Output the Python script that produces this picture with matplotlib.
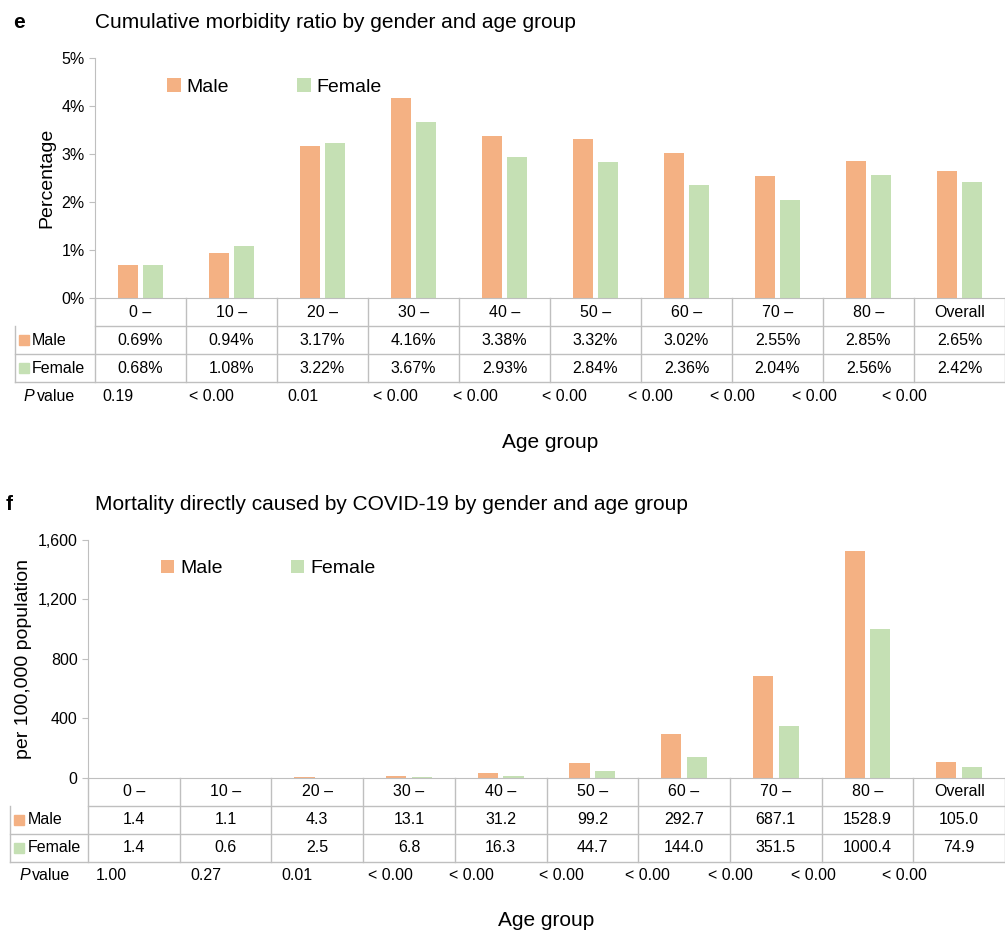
import matplotlib.pyplot as plt
import matplotlib.transforms as mtransforms
from matplotlib.ticker import FuncFormatter

plt.rcParams['font.family'] = ['Liberation Sans', 'DejaVu Sans']

groups = ["0 –", "10 –", "20 –", "30 –", "40 –", "50 –", "60 –", "70 –", "80 –", "Overall"]

morb_male = [0.69, 0.94, 3.17, 4.16, 3.38, 3.32, 3.02, 2.55, 2.85, 2.65]
morb_female = [0.68, 1.08, 3.22, 3.67, 2.93, 2.84, 2.36, 2.04, 2.56, 2.42]
morb_p = ["0.19", "< 0.00", "0.01", "< 0.00", "< 0.00", "< 0.00", "< 0.00", "< 0.00", "< 0.00", "< 0.00"]

mort_male = [1.4, 1.1, 4.3, 13.1, 31.2, 99.2, 292.7, 687.1, 1528.9, 105.0]
mort_female = [1.4, 0.6, 2.5, 6.8, 16.3, 44.7, 144.0, 351.5, 1000.4, 74.9]
mort_p = ["1.00", "0.27", "0.01", "< 0.00", "< 0.00", "< 0.00", "< 0.00", "< 0.00", "< 0.00", "< 0.00"]

MALE = "#F4B183"
FEMALE = "#C5E0B4"
LINE = "#BFBFBF"

# p value labels sit a bit off the column centres in the original
p_pos = [-0.25, 0.78, 1.78, 2.8, 3.68, 4.66, 5.6, 6.51, 7.41, 8.4]

fig = plt.figure(figsize=(10.05, 9.39), dpi=100)


def panel(rect, male, female, fmt, pvals, ylim, yticks, yfmt, ylabel, letter, title, rowh, label_left, title_dx):
    ax = fig.add_axes(rect)
    n = len(groups)
    x = list(range(n))
    w = 0.22
    ax.bar([i - 0.14 for i in x], male, w, color=MALE, label="Male")
    ax.bar([i + 0.14 for i in x], female, w, color=FEMALE, label="Female")
    ax.set_xlim(-0.5, n - 0.5)
    ax.set_ylim(*ylim)
    ax.set_yticks(yticks)
    ax.yaxis.set_major_formatter(FuncFormatter(yfmt))
    ax.set_xticks([])
    for s in ["top", "right"]:
        ax.spines[s].set_visible(False)
    ax.spines["left"].set_color(LINE)
    ax.spines["bottom"].set_color(LINE)
    ax.tick_params(axis="y", labelsize=11.5, length=4, color=LINE)
    ax.set_ylabel(ylabel, fontsize=14)
    ax.legend(loc="upper left", bbox_to_anchor=(0.06, 0.99), ncol=2, frameon=False,
              fontsize=14, handlelength=0.7, handleheight=0.7, columnspacing=3.5, handletextpad=0.3)
    ax.text(-0.09, 1.15, letter, transform=ax.transAxes, fontsize=15, fontweight="bold", va="center")
    ax.text(title_dx, 1.15, title, transform=ax.transAxes, fontsize=15, va="center")

    tr = mtransforms.blended_transform_factory(ax.transData, ax.transAxes)
    kw = dict(transform=tr, clip_on=False, color=LINE, lw=1)
    ys = [0, -rowh, -2 * rowh, -3 * rowh]
    ax.plot([-0.5, n - 0.5], [ys[1]] * 2, **kw)
    ax.plot([label_left, n - 0.5], [ys[2]] * 2, **kw)
    ax.plot([label_left, n - 0.5], [ys[3]] * 2, **kw)
    for b in range(n + 1):
        ax.plot([b - 0.5] * 2, [0, ys[3]], **kw)
    ax.plot([label_left] * 2, [ys[1], ys[3]], **kw)

    for i in x:
        ax.text(i, -0.5 * rowh, groups[i], transform=tr, ha="center", va="center", fontsize=11.5)
        ax.text(i, -1.5 * rowh, fmt(male[i]), transform=tr, ha="center", va="center", fontsize=11.5)
        ax.text(i, -2.5 * rowh, fmt(female[i]), transform=tr, ha="center", va="center", fontsize=11.5)
    for name, col, y in [("Male", MALE, -1.5 * rowh), ("Female", FEMALE, -2.5 * rowh)]:
        ax.plot([label_left + 0.1], [y], marker="s", ms=7, color=col, transform=tr, clip_on=False)
        ax.text(label_left + 0.19, y, name, transform=tr, ha="left", va="center", fontsize=11.5)
    ax.text(label_left + 0.1, -3.5 * rowh, "P", transform=tr, ha="left", va="center",
            fontsize=11.5, style="italic")
    ax.text(label_left + 0.24, -3.5 * rowh, "value", transform=tr, ha="left", va="center", fontsize=11.5)
    for p, xp in zip(pvals, p_pos):
        ax.text(xp, -3.5 * rowh, p, transform=tr, ha="center", va="center", fontsize=11.5)
    ax.text(0.5, -0.6, "Age group", transform=ax.transAxes, ha="center", va="center", fontsize=15)
    return ax


panel([0.0945, 0.6826, 0.9055, 0.2556], morb_male, morb_female, lambda v: f"{v:.2f}%", morb_p,
      (0, 5), [0, 1, 2, 3, 4, 5], lambda v, _: f"{v:.0f}%", "Percentage", "e",
      "Cumulative morbidity ratio by gender and age group", 0.1167, -1.38, 0.0)

panel([0.0876, 0.1715, 0.9124, 0.2535], mort_male, mort_female, lambda v: f"{v:.1f}", mort_p,
      (0, 1600), [0, 400, 800, 1200, 1600], lambda v, _: f"{v:,.0f}", "per 100,000 population", "f",
      "Mortality directly caused by COVID-19 by gender and age group", 0.1176, -1.35, 0.008)

fig.savefig("out.png", dpi=100)
